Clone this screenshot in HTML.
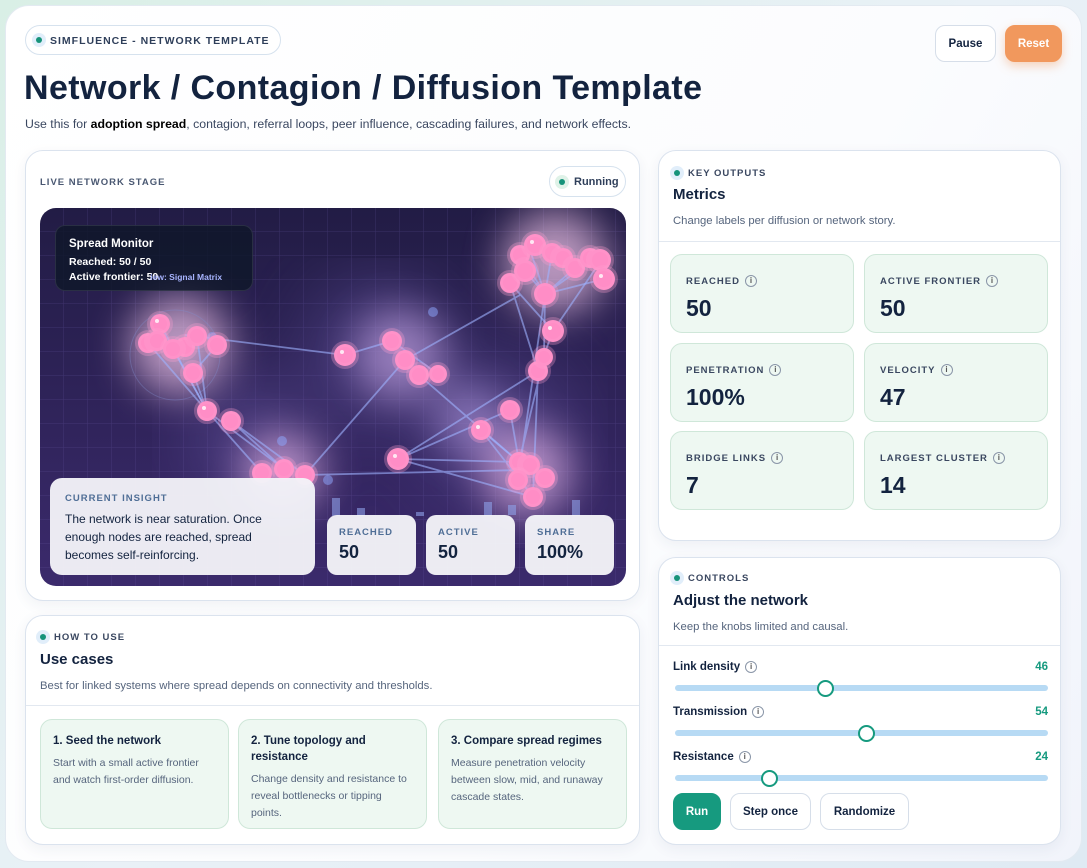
<!DOCTYPE html>
<html><head><meta charset="utf-8"><style>
*{box-sizing:border-box;margin:0;padding:0}
body{width:1087px;height:868px;overflow:hidden;background:linear-gradient(135deg,#d9efe6,#e9f1f7 50%,#dfeaf3);font-family:"Liberation Sans",sans-serif;color:#13233f;position:relative}
.main{position:absolute;left:5px;top:5px;width:1077px;height:857px;background:linear-gradient(120deg,#fff 0%,#fbfcfe 60%,#f1f4fb 100%);border-radius:24px;border:1px solid #e3eaf1}
.abs{position:absolute}
.card{position:absolute;background:#fff;border:1px solid #dbe3ee;border-radius:18px;box-shadow:0 4px 14px rgba(30,50,90,.06)}
.pill{position:absolute;left:25px;top:25px;width:256px;height:30px;border:1px solid #d6e2ee;border-radius:16px;background:#fff;font-size:10.5px;font-weight:bold;letter-spacing:1px;color:#2f3f5a;padding:9px 0 0 24px}
.dot{position:absolute;width:14px;height:14px;border-radius:50%;background:#e1eefa}
.dot::after{content:"";position:absolute;left:4px;top:4px;width:6px;height:6px;border-radius:50%;background:#16937a}
.btn{position:absolute;height:37px;border-radius:10px;font-size:11.5px;font-weight:bold;text-align:center;line-height:37px;border:1px solid #d6dee9;background:#fff;color:#13233f}
.lbl{font-size:9.5px;font-weight:bold;letter-spacing:1px;color:#3a4760}
.h2{font-size:15px;font-weight:bold}
.desc{font-size:11.3px;color:#56657d}
.tile{position:absolute;width:184px;height:79px;background:#eef8f2;border:1px solid #cfe7d9;border-radius:12px;padding:20px 0 0 15px}
.tile .t{font-size:9.5px;font-weight:bold;letter-spacing:1px;color:#3a4760}
.tile .v{font-size:23px;font-weight:bold;margin-top:8px;color:#13233f}
.i{display:inline-block;width:12px;height:12px;border:1px solid #8a96a8;border-radius:50%;font-size:8px;text-align:center;line-height:10px;margin-left:5px;color:#555;vertical-align:1px;letter-spacing:0}
.track{position:absolute;left:675px;width:373px;height:6px;border-radius:3px;background:#b7daf4}
.thumb{position:absolute;width:17px;height:17px;border-radius:50%;background:#fff;border:2px solid #169a7f}
.sl{position:absolute;left:673px;width:375px;font-size:11.5px;font-weight:bold}
.sl span.n{position:absolute;right:0;color:#169a7f}
.uc{position:absolute;top:719px;width:189px;height:110px;background:#eef8f2;border:1px solid #cfe7d9;border-radius:12px;padding:13px 12px}
.uc b{font-size:11.5px;display:block;margin-bottom:6px;line-height:16px}
.uc p{font-size:10.5px;color:#56657d;line-height:17px}
.sbox{position:absolute;top:515px;width:89px;height:60px;background:rgba(245,245,250,.95);border-radius:10px;padding:12px 0 0 12px}
.sbox .t{font-size:9.5px;font-weight:bold;letter-spacing:1px;color:#4f6e96}
.sbox .v{font-size:18px;font-weight:bold;margin-top:4px}
</style></head><body>
<div class="main"></div>
<div class="pill"><div class="dot" style="left:6px;top:7px"></div>SIMFLUENCE - NETWORK TEMPLATE</div>
<div class="btn" style="left:935px;top:25px;width:61px">Pause</div>
<div class="btn" style="left:1005px;top:25px;width:57px;background:#f1985d;border-color:#f1985d;color:#fff;box-shadow:0 4px 10px rgba(240,150,90,.4)">Reset</div>
<div class="abs" style="left:24px;top:69px;font-size:34px;font-weight:bold;letter-spacing:0.4px">Network / Contagion / Diffusion Template</div>
<div class="abs desc" style="left:25px;top:117px;font-size:12.3px;color:#3a4760">Use this for <b style="color:#000">adoption spread</b>, contagion, referral loops, peer influence, cascading failures, and network effects.</div>

<div class="card" style="left:25px;top:150px;width:615px;height:451px"></div>
<div class="abs lbl" style="left:40px;top:177px;color:#4a5872">LIVE NETWORK STAGE</div>
<div class="abs" style="left:549px;top:166px;width:77px;height:31px;border:1px solid #d6e2ee;border-radius:16px;background:#fff;font-size:11px;font-weight:bold;color:#2f3f5a;padding:9px 0 0 24px"><div class="dot" style="left:5px;top:8px;background:#dff2e8"></div>Running</div>

<svg class="abs" style="left:40px;top:208px" width="586" height="378" viewBox="40 208 586 378">
<defs>
<linearGradient id="bg" x1="0" y1="0" x2="0" y2="1"><stop offset="0" stop-color="#221c45"/><stop offset="1" stop-color="#3b2a6c"/></linearGradient>
<filter id="bl"><feGaussianBlur stdDeviation="20"/></filter>
<filter id="bl2"><feGaussianBlur stdDeviation="35"/></filter>
<pattern id="gr" width="24" height="24" patternUnits="userSpaceOnUse" x="40" y="208"><path d="M24 0V24H0" fill="none" stroke="#7060b0" stroke-opacity=".3" stroke-width="1"/></pattern>
<clipPath id="cp"><rect x="40" y="208" width="586" height="378" rx="16"/></clipPath>
</defs>
<g clip-path="url(#cp)">
<rect x="40" y="208" width="586" height="378" fill="url(#bg)"/>
<rect x="40" y="208" width="586" height="378" fill="url(#gr)"/>
<g filter="url(#bl2)" opacity=".45">
<circle cx="380" cy="350" r="70" fill="#6a5aa8"/><circle cx="500" cy="430" r="70" fill="#6a5aa8"/><circle cx="250" cy="440" r="60" fill="#6a5aa8"/>
</g>
<g filter="url(#bl)" opacity=".7">
<circle cx="180" cy="345" r="50" fill="#f4c8ec"/><circle cx="555" cy="262" r="52" fill="#f4c8ec"/><circle cx="400" cy="355" r="45" fill="#b89ad8"/><circle cx="527" cy="472" r="45" fill="#e0b0e4"/><circle cx="282" cy="472" r="40" fill="#e0b0e4"/><circle cx="470" cy="420" r="35" fill="#9f88cc"/>
</g>
<circle cx="175" cy="355" r="45" fill="none" stroke="#8090d0" stroke-opacity=".35"/>
<g stroke="#9fb3ff" stroke-opacity=".6" stroke-width="1.8">
<path d="M185 335L345 355M345 355L392 341M392 341L438 374M405 360L520 295M405 360L305 475M419 375L519 462M398 459L519 462M398 459L533 497M398 459L538 371M398 459L510 410M305 475L520 470M545 294L544 357M545 294L518 480M604 279L545 294M510 283L538 371M520 255L545 294M207 411L262 473M231 421L284 469M193 373L207 411M160 324L207 411M217 345L193 373M538 371L533 497M481 430L533 497M544 357L519 462"/>
<path d="M515 260L545 294M530 250L545 294M552 253L545 294M575 268L545 294M590 262L545 294M510 283L553 331M600 262L553 331M553 331L538 371M148 343L207 411M173 349L207 411M197 336L207 411M231 421L305 475M207 411L284 469M510 410L519 462M481 430L519 462"/>
</g>
<g fill="#8ea8ff" opacity=".5"><circle cx="212" cy="337" r="5"/><circle cx="433" cy="312" r="5"/><circle cx="282" cy="441" r="5"/><circle cx="328" cy="480" r="5"/></g>
<g fill="#ff8dc6" stroke="#ff9ed0" stroke-opacity=".3" stroke-width="6">
<circle cx="160" cy="324" r="10"/><circle cx="148" cy="343" r="10"/><circle cx="157" cy="341" r="10"/><circle cx="185" cy="347" r="10"/><circle cx="173" cy="349" r="10"/><circle cx="197" cy="336" r="10"/><circle cx="217" cy="345" r="10"/><circle cx="193" cy="373" r="10"/><circle cx="207" cy="411" r="10"/><circle cx="231" cy="421" r="10"/><circle cx="262" cy="473" r="10"/><circle cx="284" cy="469" r="10"/><circle cx="305" cy="475" r="10"/><circle cx="345" cy="355" r="11"/><circle cx="392" cy="341" r="10"/><circle cx="405" cy="360" r="10"/><circle cx="419" cy="375" r="10"/><circle cx="438" cy="374" r="9"/><circle cx="398" cy="459" r="11"/><circle cx="481" cy="430" r="10"/><circle cx="510" cy="410" r="10"/><circle cx="519" cy="462" r="10"/><circle cx="530" cy="465" r="10"/><circle cx="518" cy="480" r="10"/><circle cx="533" cy="497" r="10"/><circle cx="545" cy="478" r="10"/><circle cx="538" cy="371" r="10"/><circle cx="544" cy="357" r="9"/><circle cx="553" cy="331" r="11"/><circle cx="545" cy="294" r="11"/><circle cx="510" cy="283" r="10"/><circle cx="520" cy="255" r="10"/><circle cx="535" cy="245" r="11"/><circle cx="525" cy="271" r="11"/><circle cx="552" cy="253" r="10"/><circle cx="563" cy="258" r="10"/><circle cx="575" cy="268" r="10"/><circle cx="590" cy="258" r="10"/><circle cx="600" cy="260" r="11"/><circle cx="604" cy="279" r="11"/>
</g>
<g fill="#fff" opacity=".8"><circle cx="157" cy="321" r="2"/><circle cx="342" cy="352" r="2"/><circle cx="395" cy="456" r="2"/><circle cx="532" cy="242" r="2"/><circle cx="550" cy="328" r="2"/><circle cx="204" cy="408" r="2"/><circle cx="478" cy="427" r="2"/><circle cx="601" cy="276" r="2"/></g>
<g fill="#8ea0e8" opacity=".6"><rect x="332" y="498" width="8" height="18"/><rect x="357" y="508" width="8" height="8"/><rect x="416" y="512" width="8" height="4"/><rect x="484" y="502" width="8" height="14"/><rect x="508" y="505" width="8" height="10"/><rect x="572" y="500" width="8" height="16"/></g>
</g>
</svg>
<div class="abs" style="left:55px;top:225px;width:198px;height:66px;background:rgba(14,22,40,.8);border:1px solid rgba(255,255,255,.1);border-radius:10px;color:#fff;padding:11px 13px;font-size:10.5px;font-weight:bold;line-height:15px"><div style="font-size:11.5px;margin-bottom:3px">Spread Monitor</div>Reached: 50 / 50<br>Active frontier: 50<span style="font-size:8.5px;color:#a8b4ff;margin-left:-8px">iew: Signal Matrix</span></div>
<div class="abs" style="left:50px;top:478px;width:265px;height:97px;background:rgba(243,242,248,.96);border-radius:12px;padding:15px 15px">
<div class="lbl" style="color:#4f6e96">CURRENT INSIGHT</div>
<div style="font-size:12px;line-height:18px;margin-top:6px;color:#13233f">The network is near saturation. Once enough nodes are reached, spread becomes self-reinforcing.</div></div>
<div class="sbox" style="left:327px"><div class="t">REACHED</div><div class="v">50</div></div>
<div class="sbox" style="left:426px"><div class="t">ACTIVE</div><div class="v">50</div></div>
<div class="sbox" style="left:525px"><div class="t">SHARE</div><div class="v">100%</div></div>

<div class="card" style="left:658px;top:150px;width:403px;height:391px"></div>
<div class="dot" style="left:670px;top:166px"></div>
<div class="abs lbl" style="left:688px;top:168px">KEY OUTPUTS</div>
<div class="abs h2" style="left:673px;top:186px">Metrics</div>
<div class="abs desc" style="left:673px;top:215px">Change labels per diffusion or network story.</div>
<div class="abs" style="left:659px;top:241px;width:401px;height:1px;background:#e2e8f0"></div>
<div class="tile" style="left:670px;top:254px"><div class="t">REACHED<span class="i">i</span></div><div class="v">50</div></div>
<div class="tile" style="left:864px;top:254px"><div class="t">ACTIVE FRONTIER<span class="i">i</span></div><div class="v">50</div></div>
<div class="tile" style="left:670px;top:343px"><div class="t">PENETRATION<span class="i">i</span></div><div class="v">100%</div></div>
<div class="tile" style="left:864px;top:343px"><div class="t">VELOCITY<span class="i">i</span></div><div class="v">47</div></div>
<div class="tile" style="left:670px;top:431px"><div class="t">BRIDGE LINKS<span class="i">i</span></div><div class="v">7</div></div>
<div class="tile" style="left:864px;top:431px"><div class="t">LARGEST CLUSTER<span class="i">i</span></div><div class="v">14</div></div>

<div class="card" style="left:658px;top:557px;width:403px;height:288px"></div>
<div class="dot" style="left:670px;top:571px"></div>
<div class="abs lbl" style="left:688px;top:573px">CONTROLS</div>
<div class="abs h2" style="left:673px;top:592px">Adjust the network</div>
<div class="abs desc" style="left:673px;top:621px">Keep the knobs limited and causal.</div>
<div class="abs" style="left:659px;top:645px;width:401px;height:1px;background:#e2e8f0"></div>
<div class="sl" style="top:661px">Link density<span class="i">i</span><span class="n">46</span></div>
<div class="track" style="top:685px"></div><div class="thumb" style="left:817px;top:680px"></div>
<div class="sl" style="top:706px">Transmission<span class="i">i</span><span class="n">54</span></div>
<div class="track" style="top:730px"></div><div class="thumb" style="left:858px;top:725px"></div>
<div class="sl" style="top:751px">Resistance<span class="i">i</span><span class="n">24</span></div>
<div class="track" style="top:775px"></div><div class="thumb" style="left:761px;top:770px"></div>
<div class="btn" style="left:673px;top:793px;width:48px;background:#169a7f;border-color:#169a7f;color:#fff">Run</div>
<div class="btn" style="left:730px;top:793px;width:81px">Step once</div>
<div class="btn" style="left:820px;top:793px;width:89px">Randomize</div>

<div class="card" style="left:25px;top:615px;width:615px;height:230px"></div>
<div class="dot" style="left:36px;top:630px"></div>
<div class="abs lbl" style="left:54px;top:632px">HOW TO USE</div>
<div class="abs h2" style="left:40px;top:651px">Use cases</div>
<div class="abs desc" style="left:40px;top:680px">Best for linked systems where spread depends on connectivity and thresholds.</div>
<div class="abs" style="left:26px;top:705px;width:613px;height:1px;background:#e2e8f0"></div>
<div class="uc" style="left:40px"><b>1. Seed the network</b><p>Start with a small active frontier and watch first-order diffusion.</p></div>
<div class="uc" style="left:238px"><b>2. Tune topology and resistance</b><p>Change density and resistance to reveal bottlenecks or tipping points.</p></div>
<div class="uc" style="left:438px"><b>3. Compare spread regimes</b><p>Measure penetration velocity between slow, mid, and runaway cascade states.</p></div>
</body></html>
